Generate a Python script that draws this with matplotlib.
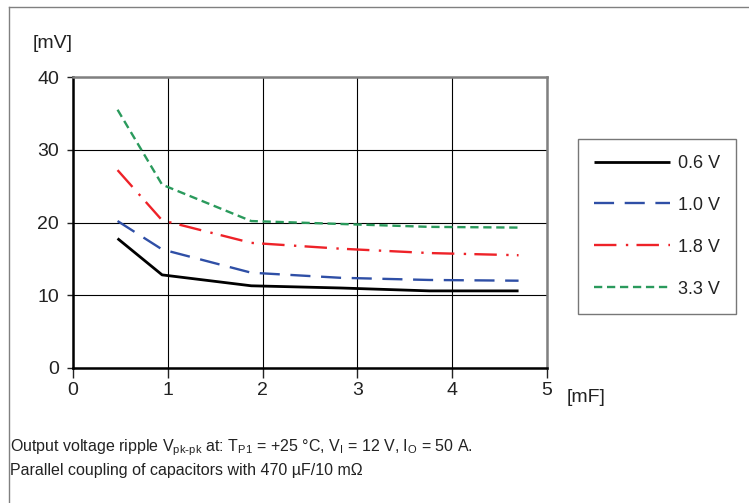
import matplotlib
matplotlib.use("Agg")
import matplotlib.pyplot as plt
from matplotlib.lines import Line2D

plt.rcParams['font.family'] = ['Liberation Sans', 'DejaVu Sans']

# capacitance [mF] (multiples of 470 uF)
cap      = [0.47, 0.94, 1.88, 2.82, 3.76, 4.70]
# ripple [mV]
v_0p6    = [17.8, 12.8, 11.3, 11.0, 10.6, 10.6]
v_1p0    = [20.2, 16.3, 13.1, 12.4, 12.1, 12.0]
v_1p8    = [27.2, 20.3, 17.2, 16.4, 15.8, 15.5]
v_3p3    = [35.5, 25.2, 20.2, 19.8, 19.4, 19.3]
labels   = ['0.6 V', '1.0 V', '1.8 V', '3.3 V']

xticks = [0, 1, 2, 3, 4, 5]
yticks = [0, 10, 20, 30, 40]

fig = plt.figure(figsize=(7.49, 5.03), dpi=100)
ax  = fig.add_axes([73/749, 1-368/503, (547-73)/749, (368-77)/503])

lw = 1.7
ax.plot(cap, v_0p6, color='black', lw=2.0, label=labels[0], solid_capstyle='butt')
ax.plot(cap, v_1p0, color='#2f4fa6', lw=lw, dashes=(8.5, 4.5), label=labels[1])
ax.plot(cap, v_1p8, color='#ee2228', lw=lw, dashes=(9.5, 4.0, 1.0, 3.5), label=labels[2])
ax.plot(cap, v_3p3, color='#2a9a5c', lw=lw, dashes=(3.5, 2.0), label=labels[3])

ax.set_xlim(0, 5)
ax.set_ylim(0, 40)
ax.set_xticks(xticks)
ax.set_yticks(yticks)
ax.tick_params(axis='both', labelsize=14, colors='#222222', width=1.0)
ax.tick_params(axis='x', length=7, pad=3)
ax.tick_params(axis='y', length=4, pad=6)
ax.grid(True, color='black', lw=0.8)
ax.set_axisbelow(True)

for s in ['top', 'right']:
    ax.spines[s].set_color('#808080')
    ax.spines[s].set_linewidth(1.8)
for s in ['left', 'bottom']:
    ax.spines[s].set_color('black')
    ax.spines[s].set_linewidth(1.8)

fig.text(33/749, 1-44/503, '[mV]', fontsize=14, color='#222222', va='center', ha='left')
fig.text(567/749, 1-397/503, '[mF]', fontsize=14, color='#222222', va='center', ha='left')

leg = ax.legend(loc='upper left', bbox_to_anchor=(578/749, 1-139/503),
                bbox_transform=fig.transFigure, frameon=True, fancybox=False,
                fontsize=13, handlelength=4.2, labelspacing=1.38, borderpad=0.88,
                handletextpad=0.45, borderaxespad=0)
leg.get_frame().set_edgecolor('#555555')
leg.get_frame().set_linewidth(1.0)
for t in leg.get_texts():
    t.set_color('#222222')

# outer border of the figure
fig.add_artist(Line2D([9/749, 9/749], [0, 1-7/503], transform=fig.transFigure, color='#808080', lw=1.0))
fig.add_artist(Line2D([9/749, 1], [1-7/503, 1-7/503], transform=fig.transFigure, color='#808080', lw=1.0))

fig.text(10/749, 1-448/503,
         r'Output voltage ripple V$_{\mathregular{pk\text{-}pk}}$ at: T$_{\mathregular{P1}}$ = +25 °C, '
         r'V$_{\mathregular{I}}$ = 12 V, I$_{\mathregular{O}}$ = 50 A.',
         fontsize=11.5, color='#222222', va='center', ha='left')
fig.text(10/749, 1-470/503, 'Parallel coupling of capacitors with 470 µF/10 mΩ',
         fontsize=11.5, color='#222222', va='center', ha='left')

fig.savefig('out.png', dpi=100)
